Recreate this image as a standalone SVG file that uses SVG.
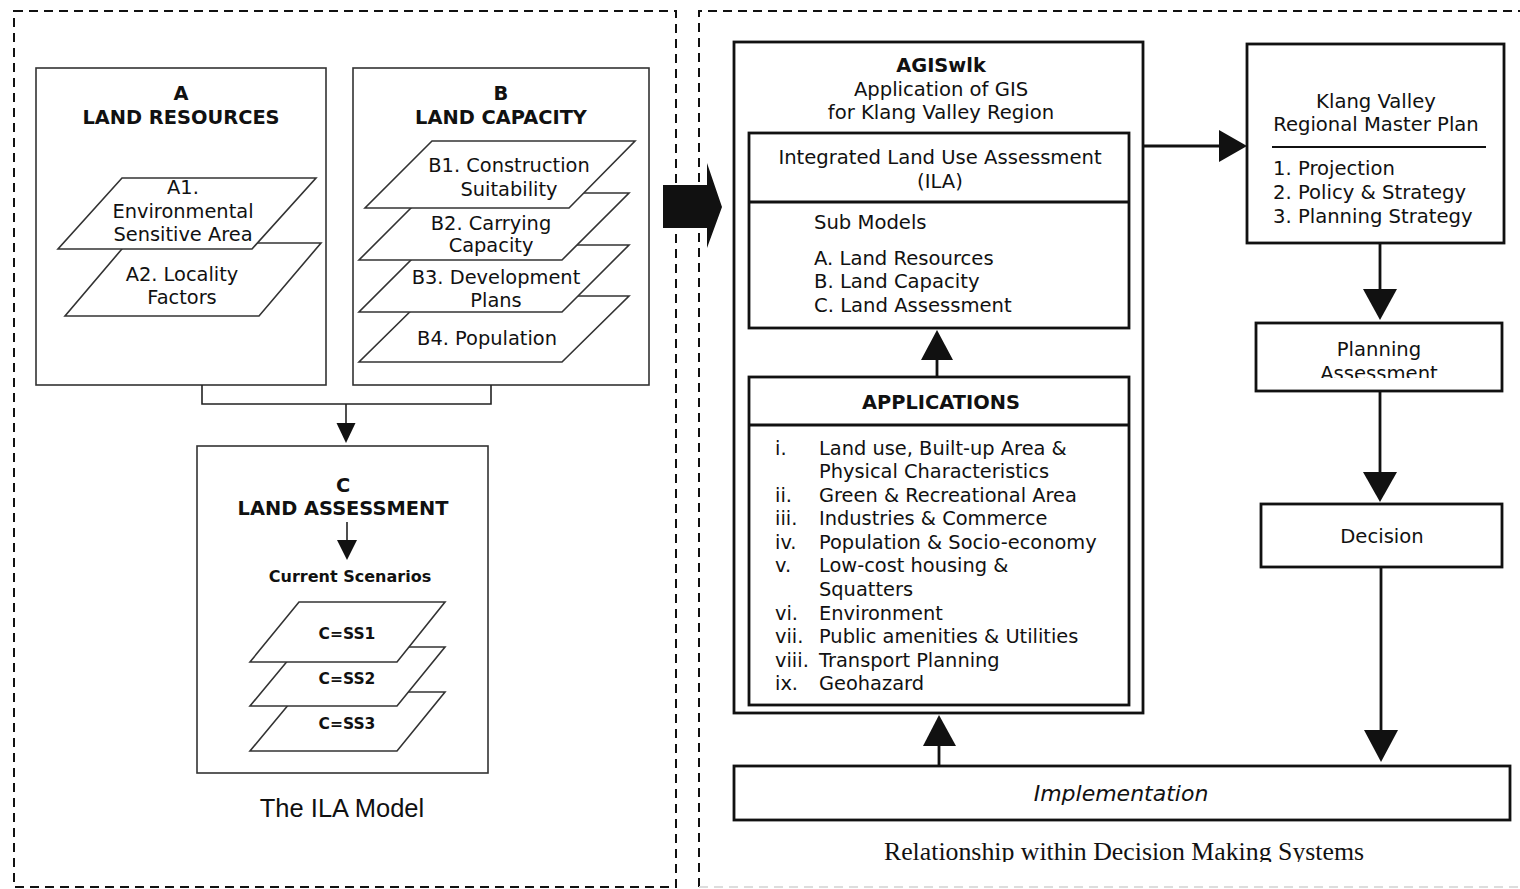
<svg xmlns="http://www.w3.org/2000/svg" width="1520" height="889" viewBox="0 0 1520 889">
<style>
.bg{fill:#fff}
.dash{fill:none;stroke:#111;stroke-width:2;stroke-dasharray:9 6}
.lbox{fill:#fff;stroke:#333;stroke-width:1.6}
.layer{fill:#fff;stroke:#333;stroke-width:1.6;stroke-linejoin:miter}
.rbox{fill:#fff;stroke:#111;stroke-width:2.8}
.ln{fill:none;stroke:#222;stroke-width:1.6}
.lnr{fill:none;stroke:#111;stroke-width:2.8}
.head{fill:#111;stroke:none}
text{font-family:"DejaVu Sans","Verdana",sans-serif;fill:#111}
.t{font-size:19.4px}
.tb{font-size:19.4px;font-weight:bold}
.c{text-anchor:middle}
.s{font-size:16px;font-weight:bold}
.ss{font-size:15.5px;font-weight:bold}
.r{font-size:19.6px}
.ap{font-size:19.4px}
</style>
<defs>
<clipPath id="paClip"><rect x="1256" y="323" width="246" height="55"/></clipPath>
<clipPath id="capClip"><rect x="700" y="820" width="820" height="42"/></clipPath>
</defs>
<rect class="bg" x="0" y="0" width="1520" height="889"/>

<g id="frames">
<rect class="dash" x="14" y="11" width="662" height="876"/>
<path class="dash" d="M699 887 V11 H1522"/>
<path d="M699 887 H1520" fill="none" stroke="#ddd" stroke-width="2" stroke-dasharray="9 6"/>
</g>

<g id="nodeA">
<rect class="lbox" x="36" y="68" width="290" height="317"/>
<text class="tb c" x="181" y="100">A</text>
<text class="tb c" x="181" y="124">LAND RESOURCES</text>
</g>
<g id="nodeA2">
<polygon class="layer" points="127,243 321,243 259,316 65,316"/>
<text class="t c" x="182" y="281">A2. Locality</text>
<text class="t c" x="182" y="304">Factors</text>
</g>
<g id="nodeA1">
<polygon class="layer" points="122,178 316,178 252,249 58,249"/>
<text class="t c" x="183" y="194">A1.</text>
<text class="t c" x="183" y="218">Environmental</text>
<text class="t c" x="183" y="241">Sensitive Area</text>
</g>

<g id="nodeB">
<rect class="lbox" x="353" y="68" width="296" height="317"/>
<text class="tb c" x="501" y="100">B</text>
<text class="tb c" x="501" y="124">LAND CAPACITY</text>
</g>
<g id="nodeB4">
<polygon class="layer" points="426,296 629,296 562,362 359,362"/>
<text class="t c" x="487" y="345">B4. Population</text>
</g>
<g id="nodeB3">
<polygon class="layer" points="426,245 629,245 562,312 359,312"/>
<text class="t c" x="496" y="284">B3. Development</text>
<text class="t c" x="496" y="307">Plans</text>
</g>
<g id="nodeB2">
<polygon class="layer" points="426,193 629,193 562,260 359,260"/>
<text class="t c" x="491" y="230">B2. Carrying</text>
<text class="t c" x="491" y="252">Capacity</text>
</g>
<g id="nodeB1">
<polygon class="layer" points="432,141 635,141 569,208 365,208"/>
<text class="t c" x="509" y="172">B1. Construction</text>
<text class="t c" x="509" y="196">Suitability</text>
</g>

<g id="nodeC">
<rect class="lbox" x="197" y="446" width="291" height="327"/>
<text class="tb c" x="343" y="492">C</text>
<text class="tb c" x="343" y="515">LAND ASSESSMENT</text>
<line class="ln" x1="347" y1="522" x2="347" y2="542"/>
<polygon class="head" points="337,540 357,540 347,560"/>
<text class="s c" x="350" y="582">Current Scenarios</text>
</g>
<g id="nodeSS3">
<polygon class="layer" points="299,692 445,692 397,751 250,751"/>
<text class="ss c" x="347" y="729">C=SS3</text>
</g>
<g id="nodeSS2">
<polygon class="layer" points="299,647 445,647 397,706 250,706"/>
<text class="ss c" x="347" y="684">C=SS2</text>
</g>
<g id="nodeSS1">
<polygon class="layer" points="299,602 445,602 397,662 250,662"/>
<text class="ss c" x="347" y="639">C=SS1</text>
</g>
<g id="captionLeft">
<text x="342" y="817" text-anchor="middle" style="font-family:'Liberation Sans',Arial,sans-serif;font-size:25.5px">The ILA Model</text>
</g>

<g id="nodeAGIS">
<rect class="rbox" x="734" y="42" width="409" height="671"/>
<text class="tb c" x="941" y="72">AGISwlk</text>
<text class="r c" x="941" y="96">Application of GIS</text>
<text class="r c" x="941" y="119">for Klang Valley Region</text>
</g>
<g id="nodeILA">
<rect class="rbox" x="749" y="133" width="380" height="195"/>
<line class="lnr" x1="749" y1="202" x2="1129" y2="202"/>
<text class="r c" x="940" y="164">Integrated Land Use Assessment</text>
<text class="r c" x="940" y="188">(ILA)</text>
<text class="r" x="814" y="229">Sub Models</text>
<text class="r" x="814" y="265">A. Land Resources</text>
<text class="r" x="814" y="288">B. Land Capacity</text>
<text class="r" x="814" y="312">C. Land Assessment</text>
</g>
<g id="nodeApps">
<rect class="rbox" x="749" y="377" width="380" height="328"/>
<line class="lnr" x1="749" y1="425" x2="1129" y2="425"/>
<text class="tb c" x="941" y="409">APPLICATIONS</text>
<g class="ap">
<text x="775" y="455">i.</text><text x="819" y="455">Land use, Built-up Area &amp;</text>
<text x="819" y="478">Physical Characteristics</text>
<text x="775" y="502">ii.</text><text x="819" y="502">Green &amp; Recreational Area</text>
<text x="775" y="525">iii.</text><text x="819" y="525">Industries &amp; Commerce</text>
<text x="775" y="549">iv.</text><text x="819" y="549">Population &amp; Socio-economy</text>
<text x="775" y="572">v.</text><text x="819" y="572">Low-cost housing &amp;</text>
<text x="819" y="596">Squatters</text>
<text x="775" y="620">vi.</text><text x="819" y="620">Environment</text>
<text x="775" y="643">vii.</text><text x="819" y="643">Public amenities &amp; Utilities</text>
<text x="775" y="667">viii.</text><text x="819" y="667">Transport Planning</text>
<text x="775" y="690">ix.</text><text x="819" y="690">Geohazard</text>
</g>
</g>

<g id="nodeKlang">
<rect class="rbox" x="1247" y="44" width="257" height="199"/>
<text class="r c" x="1376" y="108">Klang Valley</text>
<text class="r c" x="1376" y="131">Regional Master Plan</text>
<line x1="1272" y1="147" x2="1486" y2="147" stroke="#111" stroke-width="2"/>
<text class="r" x="1273" y="175">1. Projection</text>
<text class="r" x="1273" y="199">2. Policy &amp; Strategy</text>
<text class="r" x="1273" y="223">3. Planning Strategy</text>
</g>
<g id="nodePlanning">
<rect class="rbox" x="1256" y="323" width="246" height="68"/>
<g clip-path="url(#paClip)">
<text class="r c" x="1379" y="356">Planning</text>
<text class="r c" x="1379" y="380">Assessment</text>
</g>
</g>
<g id="nodeDecision">
<rect class="rbox" x="1261" y="504" width="241" height="63"/>
<text class="r c" x="1382" y="543">Decision</text>
</g>
<g id="nodeImpl">
<rect class="rbox" x="734" y="766" width="776" height="54"/>
<text class="c" x="1121" y="801" style="font-size:22px;font-style:italic">Implementation</text>
</g>
<g id="captionRight" clip-path="url(#capClip)">
<text x="1124" y="860" text-anchor="middle" style="font-family:'Liberation Serif','Times New Roman',serif;font-size:25.8px">Relationship within Decision Making Systems</text>
</g>

<g id="connectors">
<polyline class="ln" points="202,385 202,404 491,404 491,385"/>
<line class="ln" x1="346" y1="404" x2="346" y2="425"/>
<polygon class="head" points="336.5,423 355.5,423 346,443"/>
<polygon class="head" points="663,185 707,185 707,163 722,207 707,248 707,228 663,228"/>
<line class="lnr" x1="937" y1="377" x2="937" y2="358"/>
<polygon class="head" points="921,360 953,360 937,330"/>
<line class="lnr" x1="939" y1="766" x2="939" y2="744"/>
<polygon class="head" points="923,746 956,746 939,715"/>
<line class="lnr" x1="1143" y1="146" x2="1221" y2="146"/>
<polygon class="head" points="1219,130 1219,162 1247,146"/>
<line class="lnr" x1="1380" y1="243" x2="1380" y2="291"/>
<polygon class="head" points="1363,289 1397,289 1380,320"/>
<line class="lnr" x1="1380" y1="391" x2="1380" y2="474"/>
<polygon class="head" points="1363,472 1397,472 1380,502"/>
<line class="lnr" x1="1381" y1="567" x2="1381" y2="732"/>
<polygon class="head" points="1364,730 1398,730 1381,762"/>
</g>
</svg>
